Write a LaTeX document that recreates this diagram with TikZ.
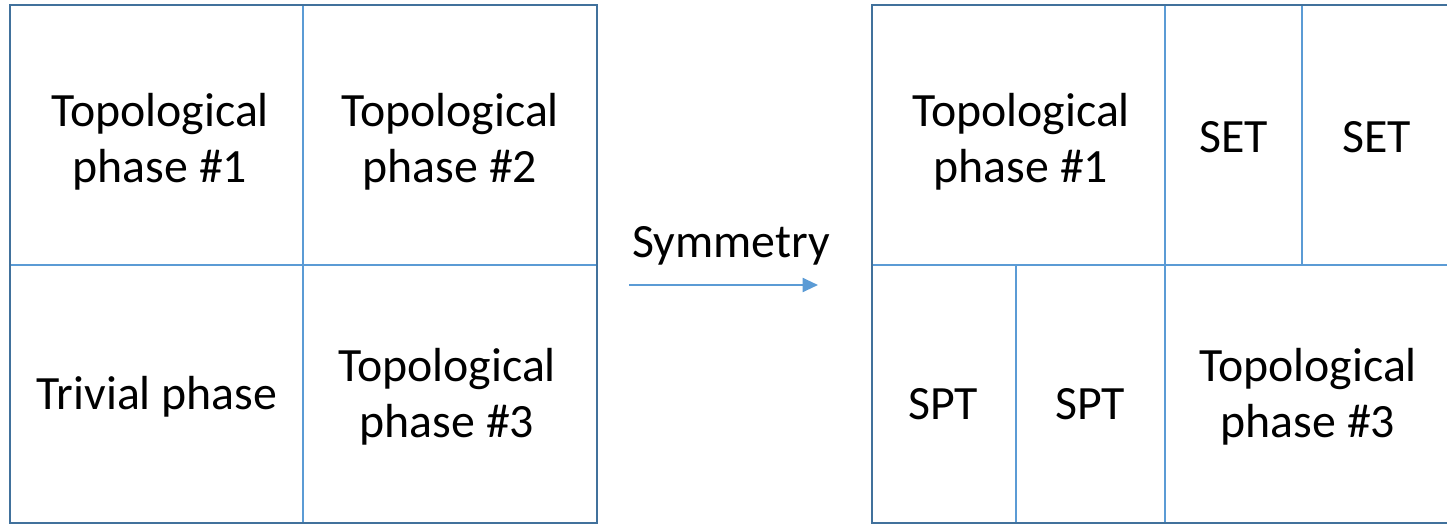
\documentclass[tikz,border=0pt]{standalone}
\usepackage{fontspec}
\setmainfont{Carlito}
\usetikzlibrary{arrows.meta}
\definecolor{frameblue}{HTML}{41719C}
\definecolor{lineblue}{HTML}{5B9BD5}
\begin{document}
\begin{tikzpicture}[x=0.025cm, y=-0.025cm,
    frame/.style={draw=frameblue, line width=1.8pt},
    split/.style={draw=lineblue, line width=0.8pt},
    lab/.style={align=center, font=\fontsize{34}{40}\selectfont, inner sep=0pt},
    symarrow/.style={-{Triangle[length=11pt, width=10pt]}, draw=lineblue, line width=1.6pt}]
  \useasboundingbox (0,0) rectangle (1447,525);

% ---------------- left diagram: four phases without symmetry
  \draw[split] (303,5) -- (303,523);
  \draw[split] (10,265) -- (597,265);
  \draw[frame] (10,5) rectangle (597,523);
  \node[lab] (top1) at (160,142) {Topological\\phase \#1};
  \node[lab] (top2) at (450,142) {Topological\\phase \#2};
  \node[lab] (triv) at (157,397) {Trivial phase};
  \node[lab] (top3) at (447,397) {Topological\\phase \#3};

% ---------------- the arrow between the two diagrams
  \node[lab] (sym) at (731,246) {Symmetry};
  \coordinate (arrA) at (629,285);
  \coordinate (arrB) at (818,285);
  \draw[symarrow] (arrA) -- (arrB);

% ---------------- right diagram: phases split further by the symmetry
  \draw[split] (872,265) -- (1455,265);
  \draw[split] (1165,5) -- (1165,523);
  \draw[split] (1302,5) -- (1302,265);
  \draw[split] (1016,265) -- (1016,523);
  \draw[frame] (872,5) rectangle (1460,523);
  \node[lab] (rtop1) at (1021,142) {Topological\\phase \#1};
  \node[lab] (set1) at (1234,137) {SET};
  \node[lab] (set2) at (1377,137) {SET};
  \node[lab] (spt1) at (943,404) {SPT};
  \node[lab] (spt2) at (1090,404) {SPT};
  \node[lab] (rtop3) at (1308,397) {Topological\\phase \#3};
\end{tikzpicture}
\end{document}
